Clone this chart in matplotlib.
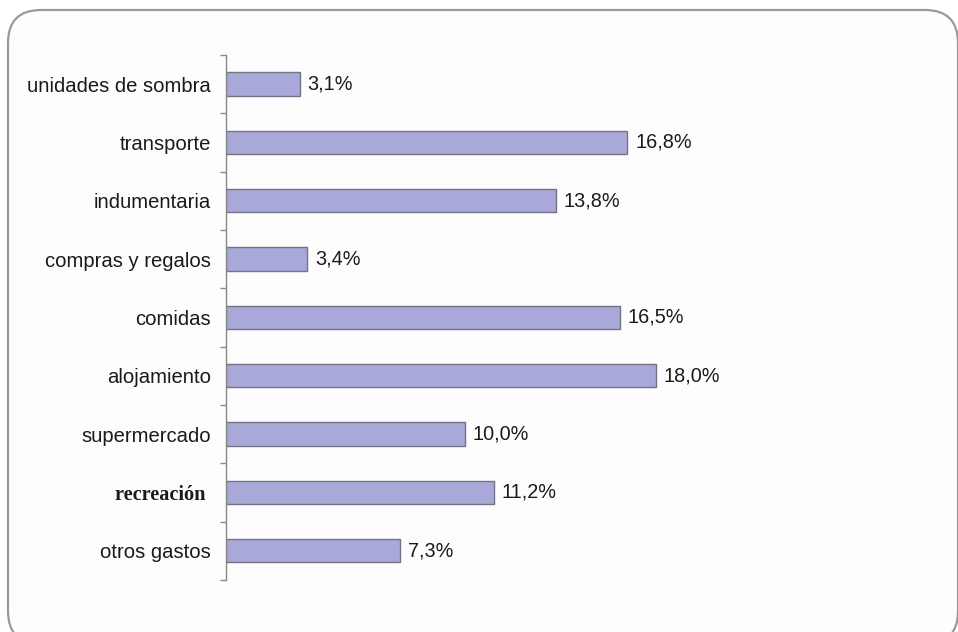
import matplotlib.pyplot as plt
import numpy as np
from matplotlib.patches import FancyBboxPatch

# gasto por rubro (%)
categorias = ['unidades de sombra', 'transporte', 'indumentaria', 'compras y regalos',
              'comidas', 'alojamiento', 'supermercado', 'recreación ', 'otros gastos']
valores = [3.1, 16.8, 13.8, 3.4, 16.5, 18.0, 10.0, 11.2, 7.3]
etiquetas = ['3,1%', '16,8%', '13,8%', '3,4%', '16,5%', '18,0%', '10,0%', '11,2%', '7,3%']

plt.rcParams['font.family'] = ['Liberation Sans', 'DejaVu Sans']

fig = plt.figure(figsize=(9.58, 6.32), dpi=100)
fig.patch.set_facecolor('white')

# marco redondeado (debajo de los ejes)
marco = FancyBboxPatch((0.08, -0.12), 9.50, 6.34,
                       boxstyle='round,pad=0,rounding_size=0.33',
                       transform=fig.dpi_scale_trans,
                       facecolor='#fdfdfd', edgecolor='#9a9a9a', linewidth=1.6, zorder=-5)
fig.patches.append(marco)

ax = fig.add_axes([0.2359, 0.0823, 0.6985, 0.8307])
ax.patch.set_alpha(0)

y = np.arange(len(categorias))
ax.barh(y, valores, height=0.40, color='#a8a9d8', edgecolor='#737385', linewidth=1.0)

for i in range(len(valores)):
    ax.annotate(etiquetas[i], (valores[i], y[i]), xytext=(5.5, 0), textcoords='offset points',
                va='center', ha='left', fontsize=14.3, color='#1a1a1a')

ax.set_xlim(0, 28)
ax.set_ylim(len(categorias) - 0.5, -0.5)

ax.set_yticks(y)
ax.set_yticklabels(categorias, fontsize=14.6, color='#1a1a1a')
ax.tick_params(axis='y', which='major', length=0, pad=11)
ax.set_yticks(np.arange(-0.5, len(categorias), 1.0), minor=True)
ax.tick_params(axis='y', which='minor', length=4, width=1.0, color='#888888')

lab = ax.get_yticklabels()[7]
lab.set_fontfamily('Liberation Serif')
lab.set_fontweight('bold')

ax.set_xticks([])
for s in ['top', 'right', 'bottom']:
    ax.spines[s].set_visible(False)
ax.spines['left'].set_color('#888888')
ax.spines['left'].set_linewidth(1.0)

plt.savefig('out.png', dpi=100)
